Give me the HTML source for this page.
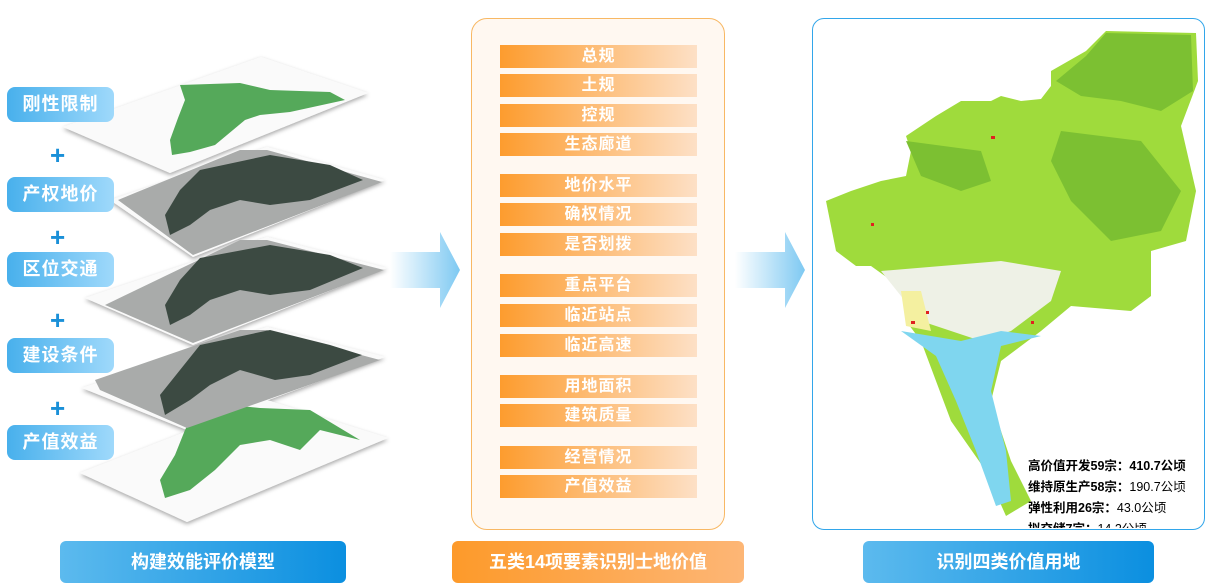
<!DOCTYPE html>
<html><head><meta charset="utf-8"><style>
body{margin:0;width:1206px;height:585px;background:#fff;overflow:hidden;font-family:"Liberation Sans","Noto Sans CJK SC",sans-serif;position:relative}
.lab{position:absolute;left:7px;width:107px;height:35px;border-radius:8px;background:linear-gradient(90deg,#48b0ec,#9fd9fb);color:#fff;font-size:18px;line-height:35px;text-align:center;font-weight:bold;letter-spacing:1px}
.plus{position:absolute;left:50px;color:#1a90d8;font-size:26px;font-weight:bold;line-height:20px}
.mid{position:absolute;left:471px;top:18px;width:252px;height:510px;border:1px solid #f8b864;border-radius:16px;background:#fff8f1}
.bar{position:absolute;left:500px;width:197px;height:23px;background:linear-gradient(90deg,#fd9c2e,#fde0c6);color:#fff;font-size:16px;line-height:23px;text-align:center;font-weight:bold;letter-spacing:1px}
.btn{position:absolute;top:541px;height:42px;border-radius:6px;color:#fff;font-size:18px;line-height:42px;text-align:center;font-weight:bold}
.right{position:absolute;left:812px;top:18px;width:391px;height:510px;border:1.5px solid #32a6ea;border-radius:12px;background:#fff;overflow:hidden}
.st{position:absolute;left:1028px;font-size:12.5px;font-weight:bold;color:#000}
.st span{font-weight:normal}
</style></head><body>
<svg width="1206" height="585" style="position:absolute;left:0;top:0">
<defs>
<linearGradient id="ar" x1="0" x2="1"><stop offset="0" stop-color="#fff"/><stop offset="1" stop-color="#7ec9f2"/></linearGradient>
<filter id="sh"><feDropShadow dx="0" dy="2" stdDeviation="2" flood-opacity="0.35"/></filter>
</defs>
<g filter="url(#sh)">
<polygon points="267,400 388,438 187,522 80,473" fill="#fafafa"/>
<polygon points="267,327 385,357 187,430 82,388" fill="#fafafa"/>
<polygon points="267,237 387,268 193,345 85,298" fill="#fafafa"/>
<polygon points="267,147 385,180 193,257 110,200" fill="#fafafa"/>
<polygon points="261,57 368,93 170,173 63,127" fill="#fafafa"/>
</g>
<polygon points="200,402 260,408 310,410 360,440 320,430 300,450 270,440 240,445 215,470 190,490 165,498 160,480 175,455 185,430" fill="#55a95a"/>
<polygon points="267,330 380,360 187,428 100,390 95,380 240,330" fill="#a9abaa"/>
<polygon points="200,345 270,330 330,345 362,355 310,375 275,380 240,370 210,385 190,400 165,415 160,395 180,370" fill="#3c4a42"/>
<polygon points="267,240 384,270 193,343 105,305 240,240" fill="#a9abaa"/>
<polygon points="200,258 270,245 330,255 363,268 310,290 270,295 240,290 210,300 190,315 170,325 165,305 180,280" fill="#3c4a42"/>
<polygon points="267,150 382,182 193,255 118,200 240,150" fill="#a9abaa"/>
<polygon points="200,170 270,155 330,165 363,180 310,200 270,205 240,200 210,210 190,225 170,235 165,215 180,190" fill="#3c4a42"/>
<polygon points="180,85 240,83 270,90 330,92 345,100 290,112 260,115 245,120 215,145 190,152 172,155 170,140 178,118 185,100" fill="#55a95a"/>
<polygon points="390,252 440,252 440,232 460,270 440,308 440,288 390,288" fill="url(#ar)"/>
<polygon points="735,252 785,252 785,232 805,270 785,308 785,288 735,288" fill="url(#ar)"/>
</svg>
<div class="lab" style="top:87px">刚性限制</div>
<div class="plus" style="top:145px">+</div>
<div class="lab" style="top:177px">产权地价</div>
<div class="plus" style="top:227px">+</div>
<div class="lab" style="top:252px">区位交通</div>
<div class="plus" style="top:310px">+</div>
<div class="lab" style="top:338px">建设条件</div>
<div class="plus" style="top:398px">+</div>
<div class="lab" style="top:425px">产值效益</div>

<div class="mid"></div>
<div class="bar" style="top:45px">总规</div>
<div class="bar" style="top:74px">土规</div>
<div class="bar" style="top:104px">控规</div>
<div class="bar" style="top:133px">生态廊道</div>
<div class="bar" style="top:174px">地价水平</div>
<div class="bar" style="top:203px">确权情况</div>
<div class="bar" style="top:233px">是否划拨</div>
<div class="bar" style="top:274px">重点平台</div>
<div class="bar" style="top:304px">临近站点</div>
<div class="bar" style="top:334px">临近高速</div>
<div class="bar" style="top:375px">用地面积</div>
<div class="bar" style="top:404px">建筑质量</div>
<div class="bar" style="top:446px">经营情况</div>
<div class="bar" style="top:475px">产值效益</div>

<div class="right">
<svg width="394" height="512" style="position:absolute;left:0;top:0">
<g transform="translate(-812,-18)">
<polygon points="1105,30 1195,32 1197,80 1180,125 1195,190 1185,240 1150,250 1150,295 1130,310 1070,305 1040,330 1020,345 1000,360 990,400 1010,460 1030,500 1005,515 985,470 950,420 935,380 920,340 905,320 905,290 870,265 855,265 835,250 825,200 850,190 880,180 905,175 910,150 905,135 935,115 960,100 990,100 1000,95 1020,100 1040,98 1050,85 1050,70 1085,50" fill="#9fdb3c"/>
<polygon points="1105,32 1190,34 1192,90 1160,110 1120,100 1080,95 1055,80 1085,55" fill="#7cc032"/>
<polygon points="1060,130 1140,140 1180,190 1160,230 1110,240 1070,200 1050,160" fill="#7cc032"/>
<polygon points="905,140 980,150 990,180 960,190 920,175" fill="#7cc032"/>
<polygon points="880,270 1000,260 1060,270 1050,300 1010,330 980,340 950,330 920,320 900,295" fill="#eef1e6"/>
<polygon points="900,330 960,340 1000,330 1040,335 1000,345 990,390 1005,450 1010,500 995,505 975,450 955,400 935,355" fill="#7fd6ef"/>
<polygon points="900,290 920,290 930,330 905,325" fill="#f4f0a0"/>
<g fill="#e02020"><rect x="910" y="320" width="4" height="3"/><rect x="925" y="310" width="3" height="3"/><rect x="990" y="135" width="4" height="3"/><rect x="870" y="222" width="3" height="3"/><rect x="1030" y="320" width="3" height="3"/></g>
<rect x="845" y="388" width="28" height="60" fill="#fff" opacity="0.7"/>
</g>
</svg>
</div>
<div class="st" style="top:455px">高价值开发59宗：410.7公顷</div>
<div class="st" style="top:476px">维持原生产58宗：<span>190.7公顷</span></div>
<div class="st" style="top:497px">弹性利用26宗：<span>43.0公顷</span></div>
<div class="st" style="top:518px;height:10px;overflow:hidden">拟交储7宗：<span>14.2公顷</span></div>

<div class="btn" style="left:60px;width:286px;background:linear-gradient(90deg,#5cbaee,#0b8fe0)">构建效能评价模型</div>
<div class="btn" style="left:452px;width:292px;background:linear-gradient(90deg,#fd9a2a,#fdb676)">五类14项要素识别士地价值</div>
<div class="btn" style="left:863px;width:291px;background:linear-gradient(90deg,#5cbaee,#0b8fe0)">识别四类价值用地</div>
</body></html>
